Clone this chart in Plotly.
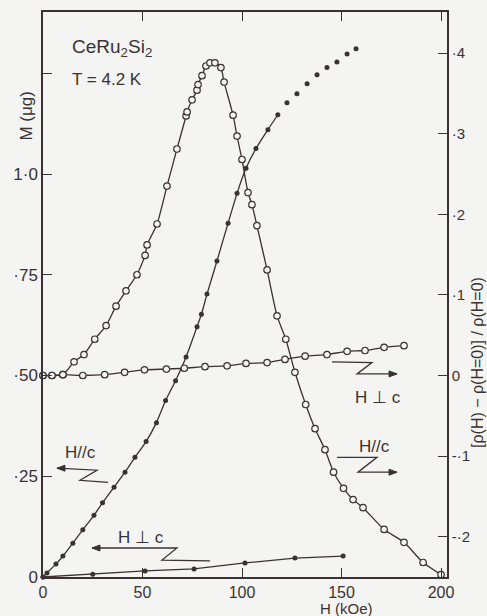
import plotly.graph_objects as go

INK = "#3a3232"
BG = "#f4f4f2"
FONT = "Liberation Sans"

# ---- data ----
# H // c : magnetoresistance ratio (right axis), open circles
rho_par_H = [0, 4.5, 10, 15.6, 20.6, 26, 31.7, 36.7, 41.7, 47.2, 51.3, 52.3, 57.3, 62.3,
             67.3, 71.9, 72.4, 74.9, 77.4, 77.9, 79.9, 81.9, 83.9, 86.4, 89.4, 91, 95.5,
             97.5, 100, 103, 105, 107.5, 112.6, 117.6, 122, 126.6, 132, 136.7, 141.7,
             146, 151, 155.8, 160.8, 171.4, 181.4, 191, 200]
rho_par = [0, 0, 0.001, 0.017, 0.026, 0.045, 0.062, 0.086, 0.105, 0.125, 0.149, 0.162,
           0.188, 0.235, 0.281, 0.322, 0.327, 0.342, 0.354, 0.361, 0.372, 0.384, 0.388,
           0.388, 0.382, 0.364, 0.323, 0.297, 0.268, 0.227, 0.212, 0.186, 0.131, 0.074,
           0.045, 0.004, -0.036, -0.066, -0.092, -0.120, -0.140, -0.154, -0.164, -0.191,
           -0.207, -0.232, -0.247]

# H ⊥ c : magnetoresistance ratio (right axis), open circles
rho_perp_H = [0, 4.5, 10, 20, 31, 41, 51, 62, 71, 81.4, 92.5, 102, 112.6, 121.6, 131.7,
              142.7, 152.8, 161.8, 171.4, 181.4]
rho_perp = [0, 0, 0.001, 0.0, 0.001, 0.004, 0.007, 0.008, 0.009, 0.011, 0.012, 0.015,
            0.016, 0.020, 0.024, 0.026, 0.030, 0.031, 0.035, 0.037]

# H // c : magnetization M (left axis), filled dots
M_par_H = [0, 2, 6.5, 10, 15, 20, 25.6, 29.9, 35.7, 41.2, 46.2, 51.8, 57, 61.6, 66.6,
           71.9, 77.4, 79.6, 82.4, 87.4, 93, 97.5, 102, 107, 113, 118, 122.6, 127.6,
           132.7, 137.7, 142.7, 147.7, 152.8, 157.3]
M_par = [0, 0.010, 0.032, 0.052, 0.084, 0.117, 0.153, 0.184, 0.223, 0.260, 0.297, 0.336,
         0.383, 0.438, 0.487, 0.546, 0.621, 0.652, 0.702, 0.784, 0.878, 0.952, 1.014,
         1.063, 1.110, 1.147, 1.177, 1.199, 1.224, 1.246, 1.264, 1.278, 1.298, 1.311]
M_par_line_end = 118  # solid curve drawn up to this field; dots only beyond

# H ⊥ c : magnetization M (left axis), filled dots
M_perp_H = [0, 25, 51.3, 75.9, 101.5, 126.6, 150.8]
M_perp = [0, 0.007, 0.015, 0.020, 0.035, 0.047, 0.052]

x_tickvals = [0, 50, 100, 150, 200]
x_ticktext = ["0", "50", "100", "150", "200"]
M_tickvals = [0, 0.25, 0.5, 0.75, 1.0, 1.25]
M_ticktext = ["0", "·25", "·50", "·75", "1·0", ""]
rho_tickvals = [-0.2, -0.1, 0, 0.1, 0.2, 0.3, 0.4]
rho_ticktext = ["-·2", "-·1", "0", "·1", "·2", "·3", "·4"]

X_RANGE = [0, 203]
M_RANGE = [0, 1.402]
RHO_RANGE = [-0.25, 0.451]

# ---- figure ----
fig = go.Figure()
open_marker = dict(symbol="circle", size=6.5, color=BG, line=dict(color=INK, width=1.2))
dot_marker = dict(symbol="circle", size=5, color=INK)
curve = dict(color=INK, width=1.3, shape="spline", smoothing=0.6)

fig.add_trace(go.Scatter(x=rho_par_H, y=rho_par, yaxis="y2", mode="lines+markers",
                         line=curve, marker=open_marker, cliponaxis=False, showlegend=False))
fig.add_trace(go.Scatter(x=rho_perp_H, y=rho_perp, yaxis="y2", mode="lines+markers",
                         line=curve, marker=open_marker, cliponaxis=False, showlegend=False))
lx = [h for h in M_par_H if h <= M_par_line_end]
ly = M_par[:len(lx)]
fig.add_trace(go.Scatter(x=lx, y=ly, mode="lines", line=curve, showlegend=False))
fig.add_trace(go.Scatter(x=M_par_H, y=M_par, mode="markers", marker=dot_marker,
                         cliponaxis=False, showlegend=False))
fig.add_trace(go.Scatter(x=M_perp_H, y=M_perp, mode="lines+markers",
                         line=dict(color=INK, width=1.3), marker=dot_marker,
                         cliponaxis=False, showlegend=False))

# zig-zag arrows (in H, M data units): [top-left, top-right, lower-left, lower-right]
arrows = [
    dict(pts=[(7.0, 0.270), (27.1, 0.265), (18.6, 0.240), (32.7, 0.235)], head="start"),
    dict(pts=[(24.6, 0.072), (67.3, 0.072), (59.8, 0.042), (83.9, 0.040)], head="start"),
    dict(pts=[(145.2, 0.534), (165.3, 0.532), (157.8, 0.504), (177.9, 0.504)], head="end"),
    dict(pts=[(147.7, 0.297), (167.8, 0.297), (158.3, 0.260), (177.9, 0.260)], head="end"),
]
# data units per pixel (plot area 404 x 567 px)
hx_px = (X_RANGE[1] - X_RANGE[0]) / 404.0
my_px = (M_RANGE[1] - M_RANGE[0]) / 567.0
HEAD_LEN, HEAD_HALF = 8, 3

shapes = []
for a in arrows:
    p = a["pts"]
    path = "M " + " L ".join(f"{x},{y}" for x, y in p)
    shapes.append(dict(type="path", path=path, xref="x", yref="y",
                       line=dict(color=INK, width=1.3)))
    if a["head"] == "start":
        (hx, hy), d = p[0], 1
    else:
        (hx, hy), d = p[3], -1
    tri = (f"M {hx},{hy} L {hx + d * HEAD_LEN * hx_px},{hy + HEAD_HALF * my_px} "
           f"L {hx + d * HEAD_LEN * hx_px},{hy - HEAD_HALF * my_px} Z")
    shapes.append(dict(type="path", path=tri, xref="x", yref="y", fillcolor=INK,
                       line=dict(color=INK, width=1)))

annotations = []
labels = [
    ("H//c", 18.6, 0.309),
    ("H ⊥ c", 49.2, 0.099),
    ("H ⊥ c", 168.3, 0.445),
    ("H//c", 166.8, 0.324),
]
for t, x, y in labels:
    annotations.append(dict(x=x, y=y, xref="x", yref="y", text=t, showarrow=False,
                            font=dict(family=FONT, size=17, color=INK)))

annotations.append(dict(x=13.6, y=1.313, xref="x", yref="y", xanchor="left",
                        text="CeRu<sub>2</sub>Si<sub>2</sub>", showarrow=False,
                        font=dict(family=FONT, size=19, color=INK)))
annotations.append(dict(x=13.6, y=1.234, xref="x", yref="y", xanchor="left",
                        text="T = 4.2 K", showarrow=False,
                        font=dict(family=FONT, size=17, color=INK)))
annotations.append(dict(x=-0.042, y=0.815, xref="paper", yref="paper", text="M (μg)",
                        xanchor="center", yanchor="middle", textangle=-90, showarrow=False,
                        font=dict(family=FONT, size=17, color=INK)))
annotations.append(dict(x=1.077, y=0.379, xref="paper", yref="paper",
                        xanchor="center", yanchor="middle",
                        text="[ρ(H) − ρ(H=0)] / ρ(H=0)", textangle=-90, showarrow=False,
                        font=dict(family=FONT, size=16, color=INK)))
annotations.append(dict(x=0.752, y=-0.055, xref="paper", yref="paper",
                        xanchor="center", yanchor="middle",
                        text="H (kOe)", showarrow=False,
                        font=dict(family=FONT, size=15, color=INK)))

axis_style = dict(showline=True, linecolor=INK, linewidth=1.5, ticks="inside", ticklen=9,
                  tickwidth=1.2, tickcolor=INK, showgrid=False, zeroline=False,
                  ticklabelstandoff=0)

fig.update_layout(
    width=487, height=616, autosize=False,
    margin=dict(l=43, r=40, t=10, b=39),
    paper_bgcolor=BG, plot_bgcolor=BG,
    xaxis=dict(range=X_RANGE, tickvals=x_tickvals, ticktext=x_ticktext, mirror="ticks",
               tickfont=dict(family=FONT, size=16, color=INK), **axis_style),
    yaxis=dict(range=M_RANGE, tickvals=M_tickvals, ticktext=M_ticktext,
               tickfont=dict(family=FONT, size=17, color=INK), **axis_style),
    yaxis2=dict(range=RHO_RANGE, tickvals=rho_tickvals, ticktext=rho_ticktext,
                overlaying="y", side="right",
                tickfont=dict(family=FONT, size=15, color=INK), **axis_style),
    shapes=shapes, annotations=annotations, showlegend=False,
)

fig.write_html("out.html")
